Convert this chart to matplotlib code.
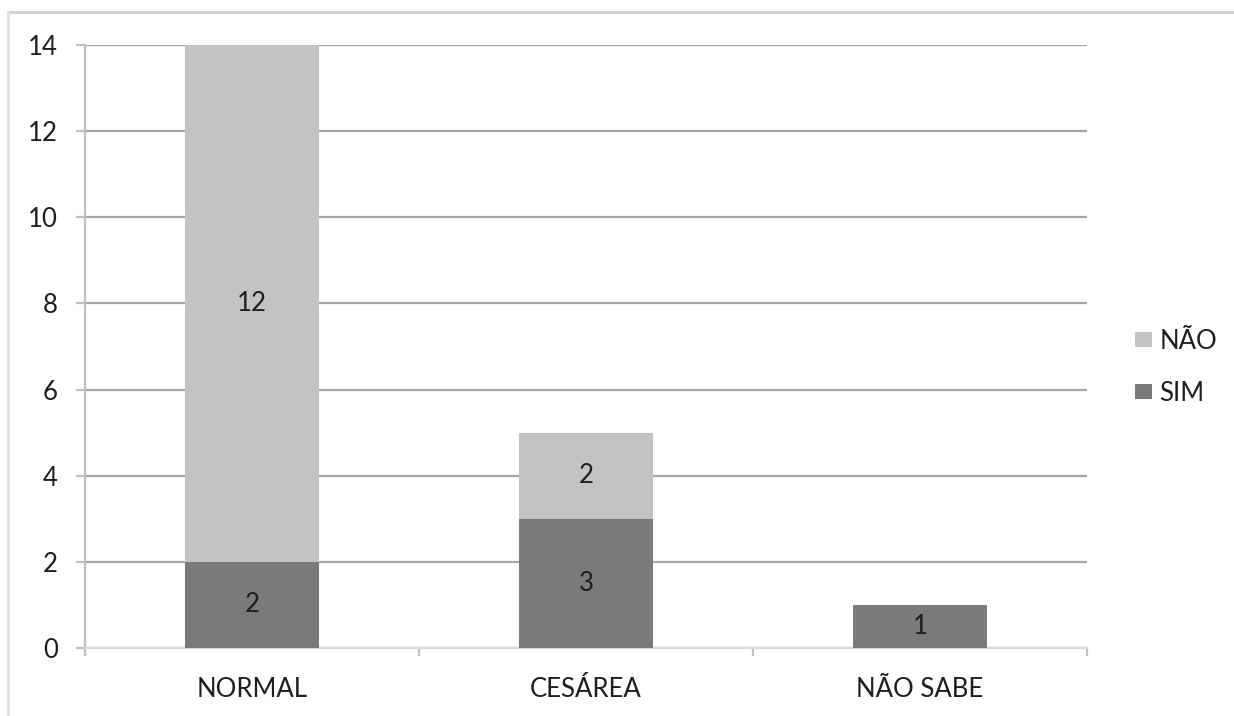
import numpy as np
import matplotlib.pyplot as plt
from matplotlib.lines import Line2D

# categories and stacked counts
categories = ["NORMAL", "CESÁREA", "NÃO SABE"]
sim = [2, 3, 1]
nao = [12, 2, 0]
yticks = [0, 2, 4, 6, 8, 10, 12, 14]

plt.rcParams['font.family'] = ['Lato', 'DejaVu Sans']
fs = 18.5
txt_col = "#1e1e1e"

fig = plt.figure(figsize=(12.34, 7.16), dpi=100)
ax = fig.add_axes([85 / 1234, 68 / 716, 1002 / 1234, 603 / 716])

x = np.arange(len(categories))
sim_col = "#7a7a7a"
nao_col = "#c3c3c3"
b1 = ax.bar(x, sim, width=0.4, color=sim_col, zorder=3, label="SIM")
b2 = ax.bar(x, nao, width=0.4, bottom=sim, color=nao_col, zorder=3, label="NÃO")

# value labels in the middle of every segment
for xi, s, n in zip(x, sim, nao):
    if s > 0:
        ax.text(xi, s / 2, str(s), ha="center", va="center", fontsize=fs, color=txt_col, zorder=4)
    if n > 0:
        ax.text(xi, s + n / 2, str(n), ha="center", va="center", fontsize=fs, color=txt_col, zorder=4)

ax.set_xlim(-0.5, 2.5)
ax.set_ylim(0, 14)
ax.set_yticks(yticks)
ax.yaxis.grid(True, color="#a6a6a6", linewidth=1.6, zorder=0)
ax.set_axisbelow(True)

for side in ["top", "right"]:
    ax.spines[side].set_visible(False)
ax.spines["left"].set_color("#c0c0c0")
ax.spines["left"].set_linewidth(1.6)
ax.spines["bottom"].set_color("#d9d9d9")
ax.spines["bottom"].set_linewidth(1.6)

ax.tick_params(axis="y", length=6.5, width=1.6, color="#c0c0c0", pad=13, labelsize=fs, labelcolor=txt_col)
ax.set_xticks(x)
ax.set_xticklabels(categories)
ax.tick_params(axis="x", which="major", length=0, pad=21, labelsize=fs, labelcolor=txt_col)
ax.set_xticks([-0.5, 0.5, 1.5, 2.5], minor=True)
ax.tick_params(axis="x", which="minor", length=6, width=1.6, color="#c0c0c0")

fig.legend(handles=[b2, b1], labels=["NÃO", "SIM"], loc="center left",
           bbox_to_anchor=(1135 / 1234, 0.487), frameon=False, fontsize=fs,
           handlelength=0.65, handleheight=0.55, handletextpad=0.3,
           labelspacing=1.05, borderpad=0, borderaxespad=0, labelcolor=txt_col)

# light frame lines along the top and left of the figure
fig.add_artist(Line2D([8 / 1234, 1], [1 - 12 / 716, 1 - 12 / 716], color="#cfcfcf", linewidth=2))
fig.add_artist(Line2D([8 / 1234, 8 / 1234], [0, 1 - 12 / 716], color="#e0e0e0", linewidth=2))

fig.savefig("out.png", dpi=100)
